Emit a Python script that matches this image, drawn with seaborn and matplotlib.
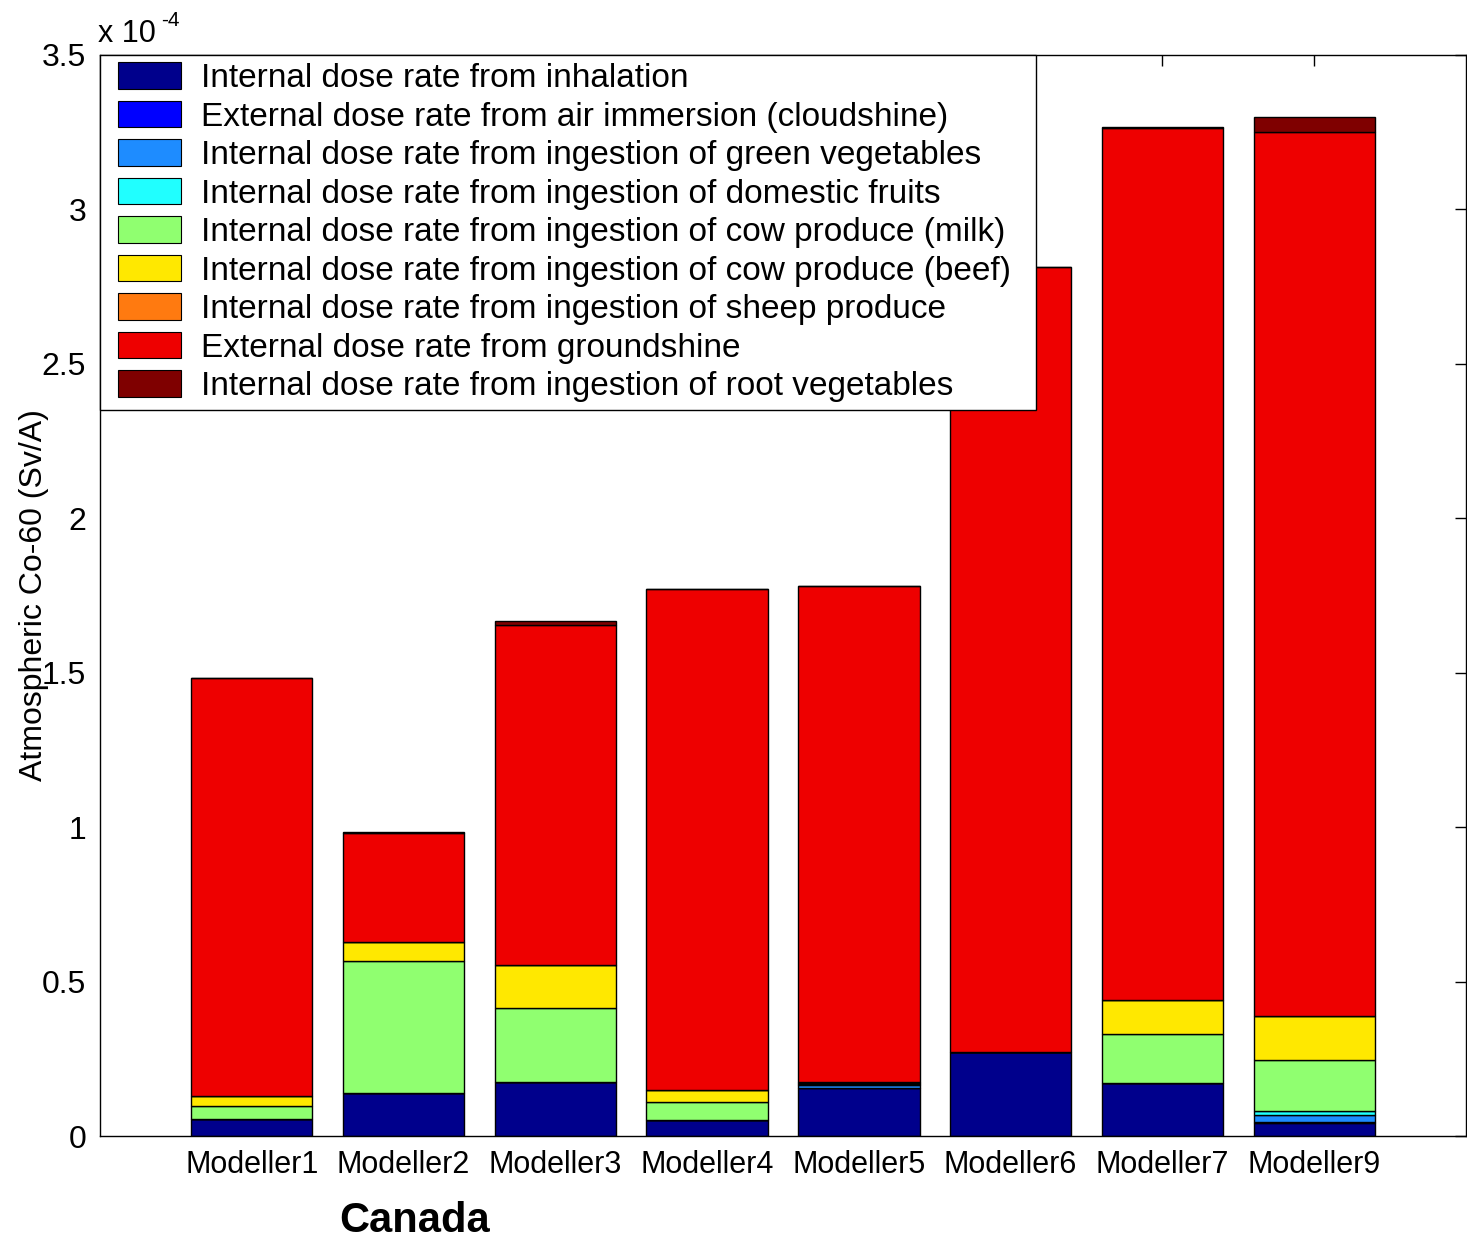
import matplotlib
matplotlib.use("Agg")
import matplotlib.pyplot as plt
import matplotlib.patches as mpatches
from matplotlib.legend_handler import HandlerPatch
from matplotlib.ticker import FuncFormatter
import seaborn as sns
import pandas as pd

# ---- data (values in units of 1e-4 Sv/A) ----
modellers = ["Modeller1", "Modeller2", "Modeller3", "Modeller4",
             "Modeller5", "Modeller6", "Modeller7", "Modeller9"]
components = [
    "Internal dose rate from inhalation",
    "External dose rate from air immersion (cloudshine)",
    "Internal dose rate from ingestion of green vegetables",
    "Internal dose rate from ingestion of domestic fruits",
    "Internal dose rate from ingestion of cow produce (milk)",
    "Internal dose rate from ingestion of cow produce (beef)",
    "Internal dose rate from ingestion of sheep produce",
    "External dose rate from groundshine",
    "Internal dose rate from ingestion of root vegetables",
]
inhalation = [0.055, 0.139, 0.175, 0.052, 0.155, 0.272, 0.172, 0.042]
cloudshine = [0.0, 0.0, 0.0, 0.0, 0.0, 0.0, 0.0, 0.002]
green_veg = [0.0, 0.0, 0.0, 0.0, 0.010, 0.0, 0.0, 0.023]
fruits = [0.0, 0.0, 0.0, 0.0, 0.004, 0.0, 0.0, 0.013]
milk = [0.042, 0.428, 0.239, 0.058, 0.004, 0.0, 0.158, 0.165]
beef = [0.032, 0.061, 0.140, 0.039, 0.003, 0.0, 0.110, 0.145]
sheep = [0.0, 0.0, 0.0, 0.0, 0.0, 0.0, 0.0, 0.0]
groundshine = [1.353, 0.353, 1.100, 1.622, 1.604, 2.541, 2.823, 2.860]
root_veg = [0.0, 0.004, 0.013, 0.0, 0.0, 0.0, 0.005, 0.049]
series = [inhalation, cloudshine, green_veg, fruits, milk, beef, sheep,
          groundshine, root_veg]
colors = ["#00008C", "#0000FF", "#1E8CFF", "#20FFFF", "#90FF70",
          "#FFE800", "#FF7A10", "#EE0000", "#7F0000"]
y_ticks = [0, 0.5, 1, 1.5, 2, 2.5, 3, 3.5]

rows = []
for comp, vals in zip(components, series):
    for m, v in zip(modellers, vals):
        rows.append({"Modeller": m, "Component": comp, "Dose": v})
df = pd.DataFrame(rows)
palette = dict(zip(components, colors))

FONT = ["Liberation Sans", "DejaVu Sans"]
sns.set_style("white")
plt.rcParams["font.family"] = FONT
plt.rcParams["font.size"] = 22
for key in ("text.color", "axes.labelcolor", "xtick.color", "ytick.color"):
    plt.rcParams[key] = "black"

fig = plt.figure(figsize=(14.67, 12.40), dpi=100)
ax = fig.add_axes([100 / 1467, 1 - 1136 / 1240, 1366 / 1467, (1136 - 55) / 1240])

# seaborn stacks hue levels with the last level at the bottom
sns.histplot(data=df, x="Modeller", weights="Dose", hue="Component",
             hue_order=components[::-1], palette=palette, multiple="stack",
             discrete=True, shrink=0.8, alpha=1, edgecolor="black",
             linewidth=1.0, legend=False, ax=ax)

ax.set_xlim(-1, 8)
ax.set_ylim(0, 3.5)
ax.set_xticks(range(len(modellers)))
ax.set_xticklabels(modellers)
ax.set_yticks(y_ticks)
ax.yaxis.set_major_formatter(FuncFormatter(lambda v, p: f"{v:g}"))
ax.set_xlabel("")
ax.set_ylabel("Atmospheric Co-60 (Sv/A)", fontsize=23)
ax.yaxis.set_label_coords(-0.037, 0.5)
ax.tick_params(axis="both", direction="in", length=8, width=1,
               top=True, right=True, pad=10)
ax.tick_params(axis="x", labelsize=22)
ax.tick_params(axis="y", labelsize=23)
for s in ax.spines.values():
    s.set_visible(True)
    s.set_color("black")
    s.set_linewidth(1)


def offset_patch(legend, orig_handle, xdescent, ydescent, width, height, fontsize):
    w = width * 0.85
    return mpatches.Rectangle((-xdescent + width - w, -ydescent), w, height)


handles = [mpatches.Patch(facecolor=c, edgecolor="black", linewidth=0.8, label=l)
           for l, c in zip(components, colors)]
leg = ax.legend(handles=handles, loc="upper left", borderaxespad=0,
                bbox_to_anchor=(0, 1, (1036 - 100) / 1366, 0), mode="expand",
                fontsize=24, frameon=True, fancybox=False, edgecolor="black",
                framealpha=1, handlelength=2.2, handleheight=0.85,
                labelspacing=0.2, handletextpad=0.6, borderpad=0.22,
                handler_map={mpatches.Patch: HandlerPatch(patch_func=offset_patch)})
leg.get_frame().set_linewidth(1)

fig.text(98 / 1467, 1 - 42 / 1240, "x 10", fontsize=22, ha="left", va="baseline")
fig.text(161 / 1467, 1 - 26 / 1240, "-4", fontsize=15, ha="left", va="baseline")
fig.text(415 / 1467, 1 - 1232 / 1240, "Canada", fontsize=30, fontweight="bold",
         ha="center", va="baseline")

fig.savefig("out.png", dpi=100)
